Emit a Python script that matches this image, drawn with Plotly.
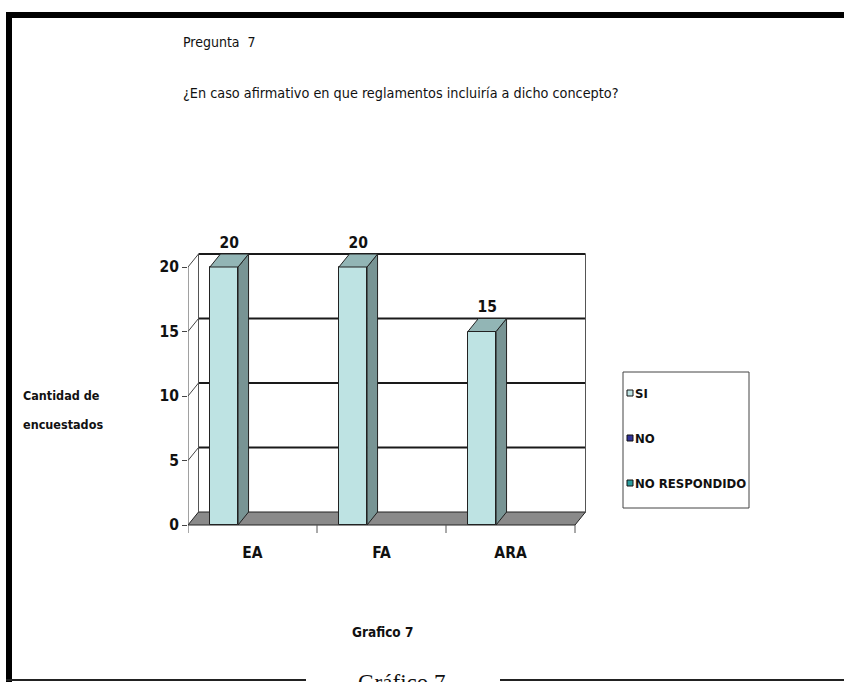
import plotly.graph_objects as go

# ---------------- data ----------------
categories = ["EA", "FA", "ARA"]
si_values = [20, 20, 15]
legend_labels = ["SI", "NO", "NO RESPONDIDO"]
legend_colors = ["#BFE4E4", "#333399", "#2A9C9C"]
y_ticks = [0, 5, 10, 15, 20]

# ---------------- geometry / style ----------------
W, H = 844, 682
PX_LEFT, PX_SLOT, PX_ZERO, PX_PER_UNIT = 188, 129, 525, 12.9
DOM_L, DOM_R, DOM_T, DOM_B = 188, 596, 240, 535
DEPTH_X_PX, DEPTH_Y_PX = 10.5, 13
BAR_OFF, BAR_W = -0.33, 0.218

NARROW = "Liberation Sans Narrow, Arial Narrow, DejaVu Sans Condensed, Liberation Sans, sans-serif"
SERIF = "Liberation Serif, Times New Roman, DejaVu Serif, serif"
FRONT, TOP, SIDE, FLOOR = "#BEE3E3", "#92B5B5", "#789494", "#8A8A8A"
INK = "#111"


def ux(px):
    return (px - PX_LEFT) / PX_SLOT - 0.5


def uy(py):
    return (PX_ZERO - py) / PX_PER_UNIT


def paper_x(px):
    return px / W


def paper_y(py):
    return 1 - py / H


DX = DEPTH_X_PX / PX_SLOT
DY = DEPTH_Y_PX / PX_PER_UNIT
n = len(categories)
xs = list(range(n))
x_lo, x_hi = -0.5, n - 0.5
y_top = max(y_ticks)

fig = go.Figure()

# front faces of the columns
fig.add_trace(go.Bar(
    x=xs, y=si_values, width=BAR_W, offset=BAR_OFF, name=legend_labels[0],
    marker=dict(color=FRONT, line=dict(color="#222", width=1)),
    showlegend=False, hoverinfo="skip",
))

# top and side faces (3-D look)
top_x, top_y, side_x, side_y = [], [], [], []
for i, v in zip(xs, si_values):
    x0 = i + BAR_OFF
    x1 = x0 + BAR_W
    top_x += [x0, x1, x1 + DX, x0 + DX, x0, None]
    top_y += [v, v, v + DY, v + DY, v, None]
    side_x += [x1, x1 + DX, x1 + DX, x1, x1, None]
    side_y += [0, DY, v + DY, v, 0, None]
fig.add_trace(go.Scatter(x=side_x, y=side_y, mode="lines", fill="toself",
                         fillcolor=SIDE, line=dict(color="#222", width=1),
                         showlegend=False, hoverinfo="skip"))
fig.add_trace(go.Scatter(x=top_x, y=top_y, mode="lines", fill="toself",
                         fillcolor=TOP, line=dict(color="#222", width=1),
                         showlegend=False, hoverinfo="skip"))

# data labels
fig.add_trace(go.Scatter(
    x=[i + BAR_OFF + BAR_W / 2 + DX / 2 for i in xs],
    y=[v + DY + 0.2 for v in si_values],
    mode="text", text=[str(v) for v in si_values], textposition="top center",
    textfont=dict(family=NARROW, size=15.5, color=INK, weight="bold"),
    showlegend=False, hoverinfo="skip", cliponaxis=False,
))

shapes = []
# floor
shapes.append(dict(type="path", xref="x", yref="y", layer="below",
                   path=f"M{x_lo},0 L{x_hi},0 L{x_hi + DX},{DY} L{x_lo + DX},{DY} Z",
                   fillcolor=FLOOR, line=dict(color="#222", width=1)))
# back wall gridlines
for k in y_ticks[1:]:
    shapes.append(dict(type="line", xref="x", yref="y", layer="below",
                       x0=x_lo + DX, x1=x_hi + DX, y0=k + DY, y1=k + DY,
                       line=dict(color="#1a1a1a", width=2)))
# back wall verticals
for xv in (x_lo + DX, x_hi + DX):
    shapes.append(dict(type="line", xref="x", yref="y", layer="below",
                       x0=xv, x1=xv, y0=DY, y1=y_top + DY,
                       line=dict(color="#555", width=1)))
# side wall diagonals
for k in y_ticks[1:]:
    shapes.append(dict(type="line", xref="x", yref="y", layer="below",
                       x0=x_lo, x1=x_lo + DX, y0=k, y1=k + DY,
                       line=dict(color="#444", width=1)))
# front vertical axis line
shapes.append(dict(type="line", xref="x", yref="y", layer="below",
                   x0=x_lo, x1=x_lo, y0=0, y1=y_top,
                   line=dict(color="#444", width=1)))
# category boundary ticks
for b in range(n + 1):
    xb = b - 0.5
    shapes.append(dict(type="line", xref="x", yref="y", layer="below",
                       x0=xb, x1=xb, y0=0, y1=uy(PX_ZERO + 8),
                       line=dict(color="#555", width=1)))

# manual legend
LEG_L, LEG_T, LEG_R, LEG_B = 623, 372, 749, 508
LEG_Y = [393, 438, 483]
shapes.append(dict(type="rect", xref="paper", yref="paper",
                   x0=paper_x(LEG_L), x1=paper_x(LEG_R), y0=paper_y(LEG_B), y1=paper_y(LEG_T),
                   line=dict(color="#444", width=1), fillcolor="white"))
annotations = []
for lab, col, py in zip(legend_labels, legend_colors, LEG_Y):
    shapes.append(dict(type="rect", xref="paper", yref="paper",
                       x0=paper_x(627), x1=paper_x(633), y0=paper_y(py + 3), y1=paper_y(py - 3),
                       line=dict(color="#111", width=1), fillcolor=col))
    annotations.append(dict(xref="paper", yref="paper", x=paper_x(633), y=paper_y(py),
                            xanchor="left", yanchor="middle", showarrow=False,
                            text=lab, font=dict(family=NARROW, size=13, color=INK, weight="bold")))

# page frame
shapes.append(dict(type="rect", xref="paper", yref="paper", x0=paper_x(6), x1=paper_x(12),
                   y0=0, y1=paper_y(12), fillcolor="black", line=dict(width=0)))
shapes.append(dict(type="rect", xref="paper", yref="paper", x0=paper_x(6), x1=1,
                   y0=paper_y(18), y1=paper_y(12), fillcolor="black", line=dict(width=0)))
for a, b in ((6, 306), (500, 844)):
    shapes.append(dict(type="line", xref="paper", yref="paper", x0=paper_x(a), x1=paper_x(b),
                       y0=paper_y(680), y1=paper_y(680), line=dict(color="#222", width=2)))

# texts
annotations += [
    dict(xref="paper", yref="paper", x=paper_x(181), y=paper_y(42), xanchor="left",
         yanchor="middle", showarrow=False, text="Pregunta  7",
         font=dict(family=NARROW, size=14, color=INK)),
    dict(xref="paper", yref="paper", x=paper_x(181), y=paper_y(93), xanchor="left",
         yanchor="middle", showarrow=False,
         text="¿En caso afirmativo en que reglamentos incluiría a dicho concepto?",
         font=dict(family=NARROW, size=14.3, color=INK)),
    dict(xref="paper", yref="paper", x=paper_x(21), y=paper_y(395), xanchor="left",
         yanchor="middle", showarrow=False, text="Cantidad de",
         font=dict(family=NARROW, size=12.5, color=INK, weight="bold")),
    dict(xref="paper", yref="paper", x=paper_x(21), y=paper_y(424), xanchor="left",
         yanchor="middle", showarrow=False, text="encuestados",
         font=dict(family=NARROW, size=12.5, color=INK, weight="bold")),
    dict(xref="paper", yref="paper", x=paper_x(382), y=paper_y(632), xanchor="center",
         yanchor="middle", showarrow=False, text="Grafico 7",
         font=dict(family=NARROW, size=13.5, color=INK, weight="bold")),
    dict(xref="paper", yref="paper", x=paper_x(402), y=paper_y(668), xanchor="center",
         yanchor="top", showarrow=False, text="Gráfico 7",
         font=dict(family=SERIF, size=23, color=INK)),
]

fig.update_layout(
    width=W, height=H, margin=dict(l=0, r=0, t=0, b=0),
    paper_bgcolor="white", plot_bgcolor="white", showlegend=False,
    shapes=shapes, annotations=annotations, bargap=0,
    xaxis=dict(domain=[paper_x(DOM_L), paper_x(DOM_R)], range=[ux(DOM_L), ux(DOM_R)],
               tickmode="array", tickvals=xs, ticktext=categories,
               ticks="outside", ticklen=3, tickcolor="rgba(0,0,0,0)",
               showgrid=False, zeroline=False, showline=False, fixedrange=True,
               tickfont=dict(family=NARROW, size=15.5, color=INK, weight="bold")),
    yaxis=dict(domain=[paper_y(DOM_B), paper_y(DOM_T)], range=[uy(DOM_B), uy(DOM_T)],
               tickmode="array", tickvals=y_ticks, ticks="outside", ticklen=5, tickcolor="#444",
               showgrid=False, zeroline=False, showline=False, fixedrange=True,
               tickfont=dict(family=NARROW, size=15.5, color=INK, weight="bold")),
)

fig.write_html("out.html", config={"displayModeBar": False},
               post_script="document.body.style.margin='0';")
